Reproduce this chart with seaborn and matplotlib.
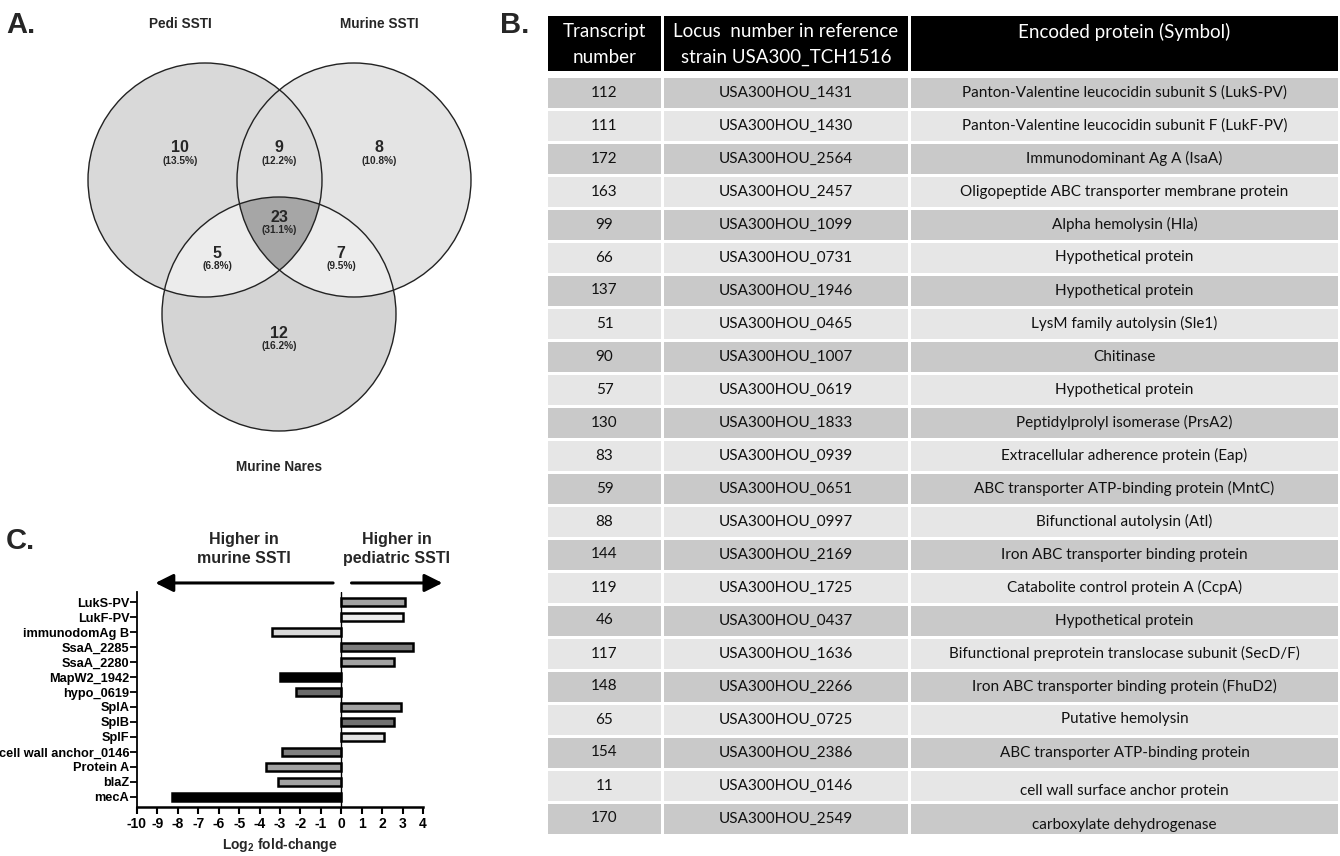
import numpy as np
import matplotlib
matplotlib.use("Agg")
import matplotlib.pyplot as plt
import seaborn as sns
import pandas as pd
from matplotlib.patches import Circle, Polygon, Rectangle

# ---------------- data ----------------
# Panel A: three-way overlap of detected transcripts
set_names = ["Pedi SSTI", "Murine SSTI", "Murine Nares"]
region_keys = ["A", "B", "C", "AB", "AC", "BC", "ABC"]
region_counts = [10, 8, 12, 9, 5, 7, 23]
region_pcts = ["13.5%", "10.8%", "16.2%", "12.2%", "6.8%", "9.5%", "31.1%"]

# Panel B: shared transcripts
transcript_numbers = ["112", "111", "172", "163", "99", "66", "137", "51", "90", "57",
                      "130", "83", "59", "88", "144", "119", "46", "117", "148", "65",
                      "154", "11", "170"]
locus_ids = ["USA300HOU_1431", "USA300HOU_1430", "USA300HOU_2564", "USA300HOU_2457",
             "USA300HOU_1099", "USA300HOU_0731", "USA300HOU_1946", "USA300HOU_0465",
             "USA300HOU_1007", "USA300HOU_0619", "USA300HOU_1833", "USA300HOU_0939",
             "USA300HOU_0651", "USA300HOU_0997", "USA300HOU_2169", "USA300HOU_1725",
             "USA300HOU_0437", "USA300HOU_1636", "USA300HOU_2266", "USA300HOU_0725",
             "USA300HOU_2386", "USA300HOU_0146", "USA300HOU_2549"]
proteins = ["Panton-Valentine leucocidin subunit S (LukS-PV)",
            "Panton-Valentine leucocidin subunit F (LukF-PV)",
            "Immunodominant Ag A (IsaA)",
            "Oligopeptide ABC transporter membrane protein",
            "Alpha hemolysin (Hla)",
            "Hypothetical protein",
            "Hypothetical protein",
            "LysM family autolysin (Sle1)",
            "Chitinase",
            "Hypothetical protein",
            "Peptidylprolyl isomerase (PrsA2)",
            "Extracellular adherence protein (Eap)",
            "ABC transporter ATP-binding protein (MntC)",
            "Bifunctional autolysin (Atl)",
            "Iron ABC transporter binding protein",
            "Catabolite control protein A (CcpA)",
            "Hypothetical protein",
            "Bifunctional preprotein translocase subunit (SecD/F)",
            "Iron ABC transporter binding protein (FhuD2)",
            "Putative hemolysin",
            "ABC transporter ATP-binding protein",
            "cell wall surface anchor protein",
            "carboxylate dehydrogenase"]
header_labels = ["Transcript\nnumber",
                 "Locus  number in reference\nstrain USA300_TCH1516",
                 "Encoded protein (Symbol)"]

# Panel C: log2 fold-change, pediatric vs murine SSTI
genes = ["LukS-PV", "LukF-PV", "immunodomAg B", "SsaA_2285", "SsaA_2280",
         "MapW2_1942", "hypo_0619", "SplA", "SplB", "SplF",
         "cell wall anchor_0146", "Protein A", "blaZ", "mecA"]
log2_fc = [3.1, 3.0, -3.4, 3.5, 2.6, -3.0, -2.2, 2.9, 2.6, 2.1, -2.9, -3.7, -3.1, -8.3]
bar_shades = ["#a2a2a2", "#ececec", "#d9d9d9", "#7c7c7c", "#a2a2a2", "#000000",
              "#6a6a6a", "#a2a2a2", "#707070", "#e2e2e2", "#808080", "#a2a2a2",
              "#a2a2a2", "#000000"]

# ---------------- style ----------------
sns.set_theme(style="white")
plt.rcParams["font.family"] = ["Liberation Sans", "DejaVu Sans"]
plt.rcParams["mathtext.fontset"] = "custom"
plt.rcParams["mathtext.rm"] = "Liberation Sans"
plt.rcParams["mathtext.bf"] = "Liberation Sans:bold"

W, H = 1340, 856
fig = plt.figure(figsize=(W / 100, H / 100), dpi=100)
fig.patch.set_facecolor("white")


def frac(x0, y0, x1, y1):
    return [x0 / W, 1 - y1 / H, (x1 - x0) / W, (y1 - y0) / H]


def panel_letter(x, y, s):
    fig.text(x / W, 1 - y / H, s, fontsize=21, fontweight="bold", va="center", ha="left")


# ---------------- Panel A: Venn ----------------
ax_a = fig.add_axes(frac(0, 0, 520, 480))
ax_a.set_xlim(0, 520)
ax_a.set_ylim(480, 0)
ax_a.axis("off")

R = 117
centers = {"A": (205, 180), "B": (354, 180), "C": (279, 314)}
base_fill = {"A": "#d9d9d9", "B": "#e4e4e4", "C": "#d4d4d4"}
overlap_fill = {"AB": "#dddddd", "AC": "#ececec", "BC": "#ececec", "ABC": "#a6a6a6"}


def inside(pts, key):
    cx, cy = centers[key]
    return (pts[:, 0] - cx) ** 2 + (pts[:, 1] - cy) ** 2 <= R ** 2 + 1e-6


def overlap_polygon(keys):
    pts = []
    t = np.linspace(0, 2 * np.pi, 1440, endpoint=False)
    for k in keys:
        cx, cy = centers[k]
        ring = np.column_stack([cx + R * np.cos(t), cy + R * np.sin(t)])
        mask = np.ones(len(ring), bool)
        for other in keys:
            if other != k:
                mask &= inside(ring, other)
        pts.append(ring[mask])
    pts = np.vstack(pts)
    c = pts.mean(axis=0)
    order = np.argsort(np.arctan2(pts[:, 1] - c[1], pts[:, 0] - c[0]))
    return pts[order]


for k in ["A", "B", "C"]:
    ax_a.add_patch(Circle(centers[k], R, facecolor=base_fill[k], edgecolor="none"))
for k in ["AB", "AC", "BC", "ABC"]:
    ax_a.add_patch(Polygon(overlap_polygon(list(k)), closed=True,
                           facecolor=overlap_fill[k], edgecolor="none"))
for k in ["A", "B", "C"]:
    ax_a.add_patch(Circle(centers[k], R, facecolor="none", edgecolor="#222222", lw=1.0))

label_pos = {"A": (180, 148), "B": (379, 148), "C": (279, 333), "AB": (279, 148),
             "AC": (217, 253), "BC": (341, 253), "ABC": (279, 217)}
for key, n, p in zip(region_keys, region_counts, region_pcts):
    x, y = label_pos[key]
    ax_a.text(x, y, str(n), ha="center", va="center", fontsize=11.5, fontweight="bold")
    ax_a.text(x, y + 13, f"({p})", ha="center", va="center", fontsize=7.3, fontweight="bold")

set_label_pos = [(180, 24), (379, 24), (279, 467)]
for name, (x, y) in zip(set_names, set_label_pos):
    ax_a.text(x, y, name, ha="center", va="center", fontsize=9.8, fontweight="bold")

panel_letter(6, 25, "A.")
panel_letter(500, 25, "B.")
panel_letter(6, 541, "C.")

# ---------------- Panel B: table ----------------
ax_b = fig.add_axes(frac(540, 0, 1340, 856))
ax_b.set_xlim(540, 1340)
ax_b.set_ylim(856, 0)
ax_b.axis("off")

col_edges = [(548, 661), (664, 908), (911, 1338)]
table_font = ["Lato", "DejaVu Sans"]
for (x0, x1), lab in zip(col_edges, header_labels):
    ax_b.add_patch(Rectangle((x0, 16), x1 - x0, 55, facecolor="black", edgecolor="none"))
    ax_b.text((x0 + x1) / 2, 23, lab, ha="center", va="top",
              color="white", fontsize=13.5, family=table_font, linespacing=1.65)

row0, row_step, row_h = 92.5, 33.0, 30
n_rows = len(transcript_numbers)
for i, (num, loc, prot) in enumerate(zip(transcript_numbers, locus_ids, proteins)):
    yc = row0 + i * row_step
    shade = "#c9c9c9" if i % 2 == 0 else "#e6e6e6"
    # the last two descriptions sit a little low in their cells
    prot_dy = 6 if i >= n_rows - 2 else 0
    for j, ((x0, x1), txt) in enumerate(zip(col_edges, [num, loc, prot])):
        ax_b.add_patch(Rectangle((x0, yc - row_h / 2), x1 - x0, row_h,
                                 facecolor=shade, edgecolor="none"))
        ax_b.text((x0 + x1) / 2, yc + (prot_dy if j == 2 else 0), txt,
                  ha="center", va="center", fontsize=11, color="#111111",
                  family=table_font)

# ---------------- Panel C: bar chart ----------------
ax_c = fig.add_axes(frac(137, 592, 423, 807))
df = pd.DataFrame({"gene": genes, "fc": log2_fc})
sns.barplot(data=df, x="fc", y="gene", hue="gene", palette=dict(zip(genes, bar_shades)),
            legend=False, orient="h", width=0.58, edgecolor="black", linewidth=1.8,
            ax=ax_c, zorder=3)
ax_c.set_xlim(-10, 4)
ax_c.set_ylim(len(genes) - 0.33, -0.67)
ax_c.set_xticks(range(-10, 5))
ax_c.set_xticklabels([str(v) for v in range(-10, 5)], fontweight="bold", fontsize=10)
ax_c.set_yticks(range(len(genes)))
ax_c.set_yticklabels(genes, fontweight="bold", fontsize=9.2)
ax_c.set_ylabel("")
ax_c.set_xlabel(r"Log$_\mathbf{2}$ fold-change", fontweight="bold", fontsize=10, labelpad=4)
ax_c.axvline(0, color="black", lw=1.0, zorder=4)
for s in ["top", "right"]:
    ax_c.spines[s].set_visible(False)
ax_c.spines["left"].set_linewidth(1.3)
ax_c.spines["bottom"].set_linewidth(1.8)
for s in ["left", "bottom"]:
    ax_c.spines[s].set_color("black")
ax_c.tick_params(axis="y", direction="out", length=5, width=1.3, pad=0.5, left=True, colors="black")
ax_c.tick_params(axis="x", direction="out", length=5, width=1.5, pad=2, bottom=True, colors="black")
ax_c.grid(False)

arrow_kw = dict(arrowstyle="-|>,head_length=0.9,head_width=0.45", color="black", lw=2.2,
                shrinkA=0, shrinkB=0)
ax_c.annotate("", xy=(-9.1, 1.042), xytext=(-0.4, 1.042),
              xycoords=("data", "axes fraction"), textcoords=("data", "axes fraction"),
              arrowprops=arrow_kw, annotation_clip=False)
ax_c.annotate("", xy=(4.95, 1.042), xytext=(0.5, 1.042),
              xycoords=("data", "axes fraction"), textcoords=("data", "axes fraction"),
              arrowprops=arrow_kw, annotation_clip=False)
ax_c.text(-4.75, 1.2, "Higher in\nmurine SSTI", transform=ax_c.get_xaxis_transform(),
          ha="center", va="center", fontsize=11.5, fontweight="bold", linespacing=1.3)
ax_c.text(2.7, 1.2, "Higher in\npediatric SSTI", transform=ax_c.get_xaxis_transform(),
          ha="center", va="center", fontsize=11.5, fontweight="bold", linespacing=1.3)

fig.savefig("out.png", dpi=100, facecolor="white")
